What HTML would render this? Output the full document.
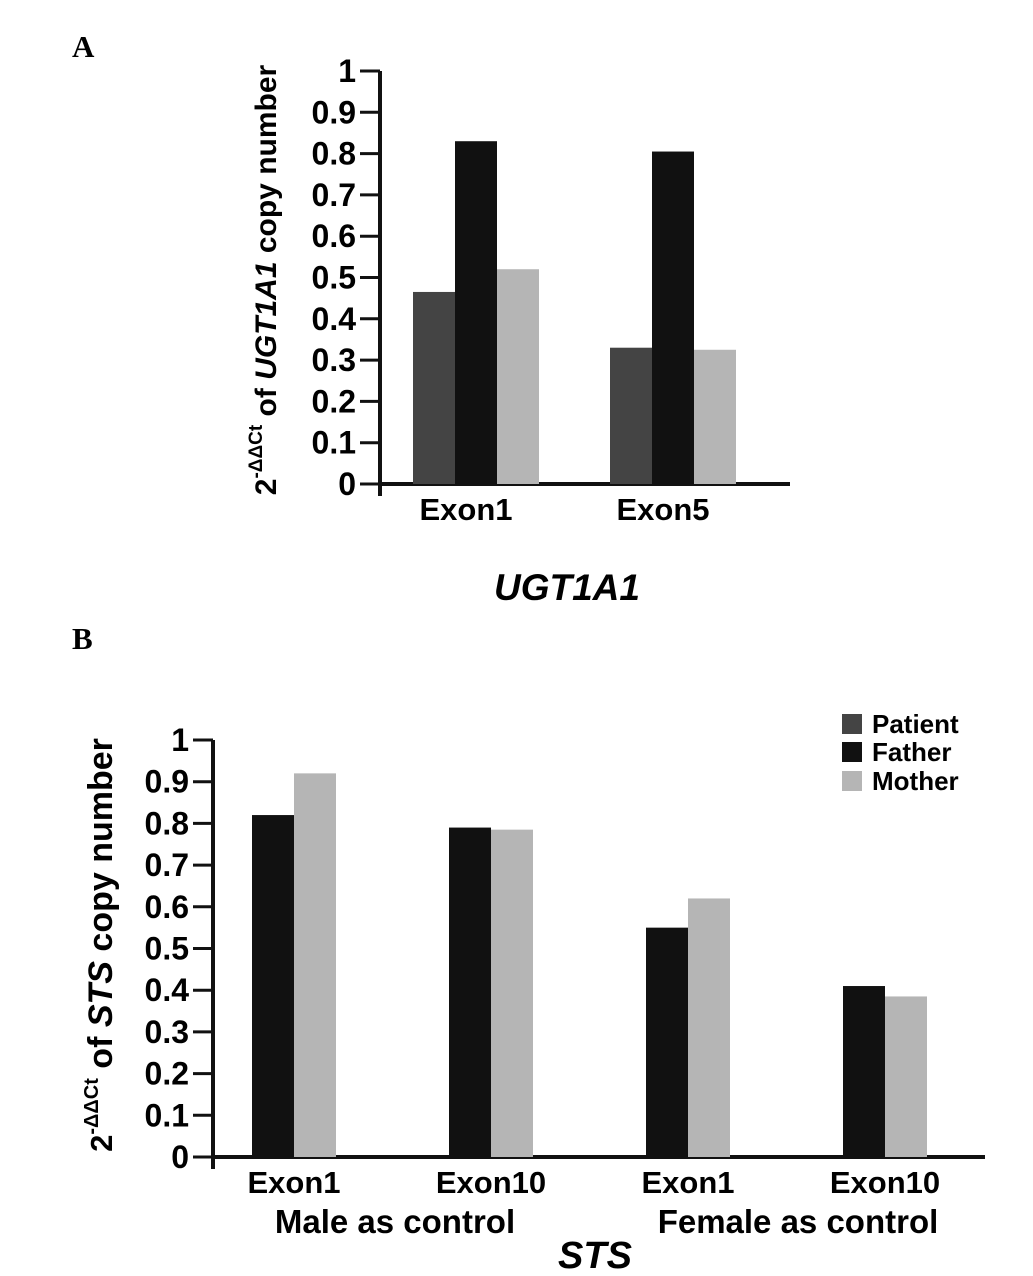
<!DOCTYPE html>
<html><head><meta charset="utf-8"><style>
body{margin:0;background:#fff;}
svg{display:block;font-family:"Liberation Sans",Arial,sans-serif;}
</style></head><body>
<svg id="c" width="1033" height="1276">
<text x="72" y="57" font-family="Liberation Serif" font-weight="bold" font-size="31">A</text>
<text x="72" y="649" font-family="Liberation Serif" font-weight="bold" font-size="31">B</text>
<g id="ga"></g>
<g id="gb"></g>
<text x="567" y="600" text-anchor="middle" font-weight="bold" font-style="italic" font-size="37">UGT1A1</text>
<text x="595" y="1268" text-anchor="middle" font-weight="bold" font-style="italic" font-size="38">STS</text>
<text transform="translate(276,280) rotate(-90)" text-anchor="middle" font-weight="bold" font-size="30">2<tspan dy="-14" font-size="19">-ΔΔCt</tspan><tspan dy="14"> of </tspan><tspan font-style="italic">UGT1A1</tspan> copy number</text>
<text transform="translate(112,945) rotate(-90)" text-anchor="middle" font-weight="bold" font-size="31">2<tspan dy="-14" font-size="20">-ΔΔCt</tspan><tspan dy="14" font-size="34"> of </tspan><tspan font-style="italic" font-size="34">STS</tspan><tspan font-size="34"> copy number</tspan></text>
<g>
<rect x="842" y="714" width="20" height="20" fill="#444"/>
<text x="872" y="733" font-weight="bold" font-size="26">Patient</text>
<rect x="842" y="742" width="20" height="20" fill="#111"/>
<text x="872" y="761" font-weight="bold" font-size="26">Father</text>
<rect x="842" y="771" width="20" height="20" fill="#b5b5b5"/>
<text x="872" y="790" font-weight="bold" font-size="26">Mother</text>
</g>
<text x="395" y="1233" text-anchor="middle" font-weight="bold" font-size="33">Male as control</text>
<text x="798" y="1233" text-anchor="middle" font-weight="bold" font-size="33">Female as control</text>
</svg>
<script>
const catsA=["Exon1","Exon5"];
const patientA=[0.465,0.33];
const fatherA=[0.83,0.805];
const motherA=[0.52,0.325];
const catsB=["Exon1","Exon10","Exon1","Exon10"];
const patientB=[0,0,0,0];
const fatherB=[0.82,0.79,0.55,0.41];
const motherB=[0.92,0.785,0.62,0.385];
const ticks=["0","0.1","0.2","0.3","0.4","0.5","0.6","0.7","0.8","0.9","1"];
const NS="http://www.w3.org/2000/svg";
function mk(p,t,a){const e=document.createElementNS(NS,t);for(const k in a)e.setAttribute(k,a[k]);p.appendChild(e);return e;}
function draw(g,o){
  const y=v=>o.y0-(o.y0-o.y1)*v;
  ticks.forEach((t,i)=>{const v=i/10;
    const l=mk(g,"line",{x1:o.ax-20,x2:o.ax,y1:y(v),y2:y(v),stroke:"#111","stroke-width":3});
    
    
    const tx=mk(g,"text",{x:o.ax-24,y:y(v)+11,"text-anchor":"end","font-weight":"bold","font-size":32});
    tx.textContent=t;
    
    
  });
  const ax=mk(g,"path",{d:`M${o.ax},${y(1)} V${o.y0+12} M${o.ax},${o.y0} H${o.xend}`,stroke:"#111","stroke-width":4,fill:"none"});
  
  
  o.cats.forEach((c,i)=>{
    const cx=o.c0+i*o.step;
    const series=[[o.p[i],"#444","patient"],[o.f[i],"#111","father"],[o.m[i],"#b5b5b5","mother"]];
    const start=o.three?cx-1.5*o.bw:cx-o.bw;
    let k=0;
    series.forEach(s=>{
      if(!o.three&&s[2]==="patient")return;
      const r=mk(g,"rect",{x:start+k*o.bw,y:y(s[0]),width:o.bw,height:o.y0-y(s[0]),fill:s[1]});
      
      
      k++;
    });
    const t=mk(g,"text",{x:cx+o.lo,y:o.y0+36,"text-anchor":"middle","font-weight":"bold","font-size":31});
    t.textContent=c;
    
    
  });
}
draw(document.getElementById("ga"),{ax:380,y0:484,y1:71,xend:790,cats:catsA,p:patientA,f:fatherA,m:motherA,c0:476,step:197,bw:42,three:true,lo:-10});
draw(document.getElementById("gb"),{ax:213,y0:1157,y1:740,xend:985,cats:catsB,p:patientB,f:fatherB,m:motherB,c0:294,step:197,bw:42,three:false,lo:0});
</script>
</body></html>
